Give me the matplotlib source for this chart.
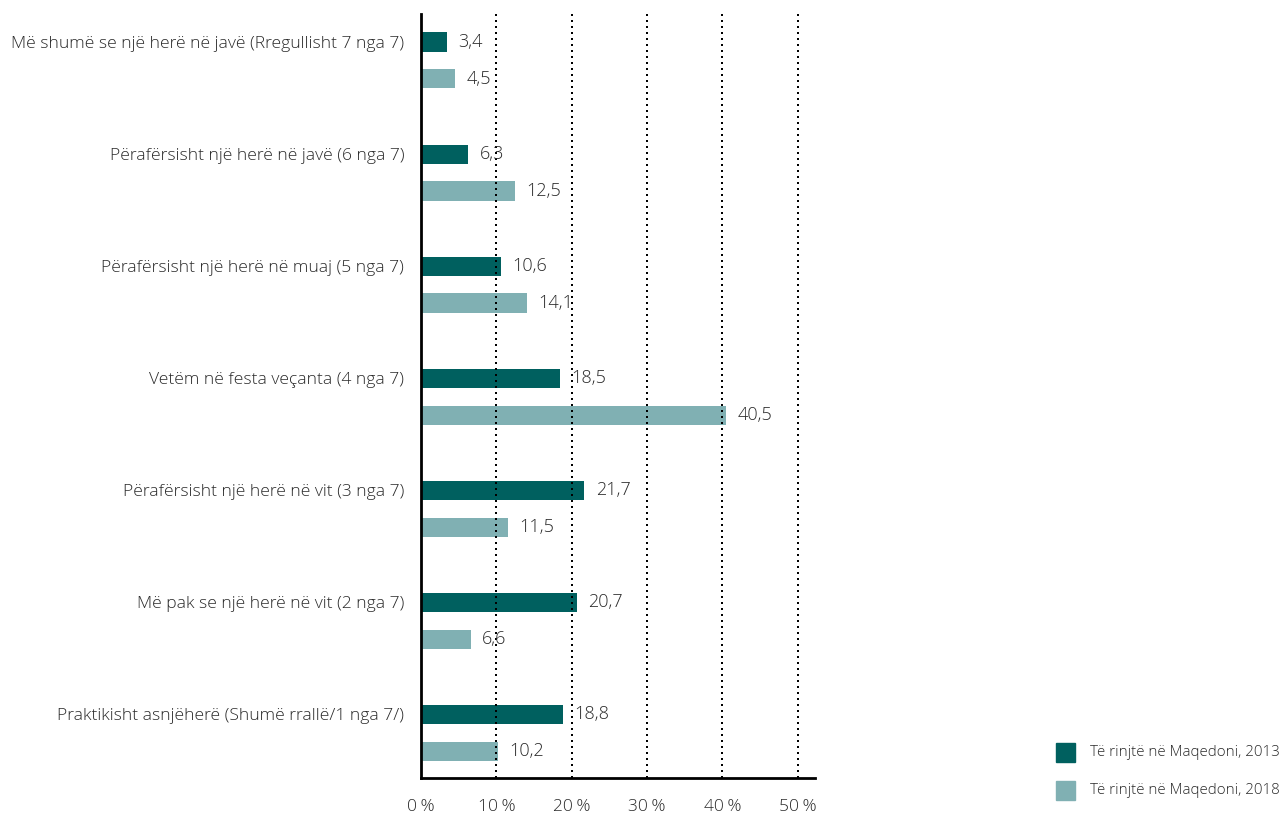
import matplotlib
matplotlib.use("Agg")
import matplotlib.pyplot as plt
import numpy as np
from matplotlib.patches import Rectangle

categories = [
    "Më shumë se një herë në javë (Rregullisht 7 nga 7)",
    "Përafërsisht një herë në javë (6 nga 7)",
    "Përafërsisht një herë në muaj (5 nga 7)",
    "Vetëm në festa veçanta (4 nga 7)",
    "Përafërsisht një herë në vit (3 nga 7)",
    "Më pak se një herë në vit (2 nga 7)",
    "Praktikisht asnjëherë (Shumë rrallë/1 nga 7/)",
]
values_2013 = [3.4, 6.3, 10.6, 18.5, 21.7, 20.7, 18.8]
values_2018 = [4.5, 12.5, 14.1, 40.5, 11.5, 6.6, 10.2]
series_names = ["Të rinjtë në Maqedoni, 2013", "Të rinjtë në Maqedoni, 2018"]
xticks = [0, 10, 20, 30, 40, 50]
xtick_labels = ["0\u2009%", "10\u2009%", "20\u2009%", "30\u2009%", "40\u2009%", "50\u2009%"]

dark = "#00605F"
light = "#80B0B3"
txt = "#2a2a2a"
fw = "light"

plt.rcParams['font.family'] = ['Open Sans', 'DejaVu Sans']

fig = plt.figure(figsize=(12.81, 8.14), dpi=100)
ax = fig.add_axes([421/1281, 1-778/814, (815-421)/1281, (778-14)/814])

y = np.arange(len(categories))
off = 0.33
h = 0.17
ax.barh(y, values_2013, height=h, color=dark, zorder=2)
ax.barh(y + off, values_2018, height=h, color=light, zorder=2)

for yi, v in zip(y, values_2013):
    ax.text(v + 1.5, yi, f"{v:.1f}".replace(".", ","), va="center", ha="left",
            fontsize=13, fontweight=fw, color=txt, zorder=4)
for yi, v in zip(y, values_2018):
    ax.text(v + 1.5, yi + off, f"{v:.1f}".replace(".", ","), va="center", ha="left",
            fontsize=13, fontweight=fw, color=txt, zorder=4)

ax.set_xlim(0, 52.3)
ax.set_ylim(6 + off + 0.24, -0.25)

for t in xticks[1:]:
    ax.axvline(t, color="black", linestyle=(0, (1, 2.0)), linewidth=1.44, zorder=3)

ax.set_xticks(xticks)
ax.set_xticklabels(xtick_labels, fontsize=12.5, fontweight=fw, color=txt)
ax.tick_params(axis="x", length=0, pad=15)
ax.set_yticks(y)
ax.set_yticklabels(categories, fontsize=12.6, fontweight=fw, color=txt)
ax.tick_params(axis="y", length=0, pad=12)

for s in ["top", "right"]:
    ax.spines[s].set_visible(False)
for s in ["left", "bottom"]:
    ax.spines[s].set_linewidth(2)
    ax.spines[s].set_color("black")
    ax.spines[s].set_zorder(5)

# legend
fig.patches.append(Rectangle((1056/1281, 1-762/814), 19/1281, 19/814,
                             transform=fig.transFigure, color=dark, figure=fig))
fig.patches.append(Rectangle((1056/1281, 1-800/814), 19/1281, 19/814,
                             transform=fig.transFigure, color=light, figure=fig))
fig.text(1090/1281, 1-752/814, series_names[0], fontsize=10.9, fontweight=fw, color=txt, va="center", ha="left")
fig.text(1090/1281, 1-790/814, series_names[1], fontsize=10.9, fontweight=fw, color=txt, va="center", ha="left")

fig.savefig("out.png", dpi=100)
